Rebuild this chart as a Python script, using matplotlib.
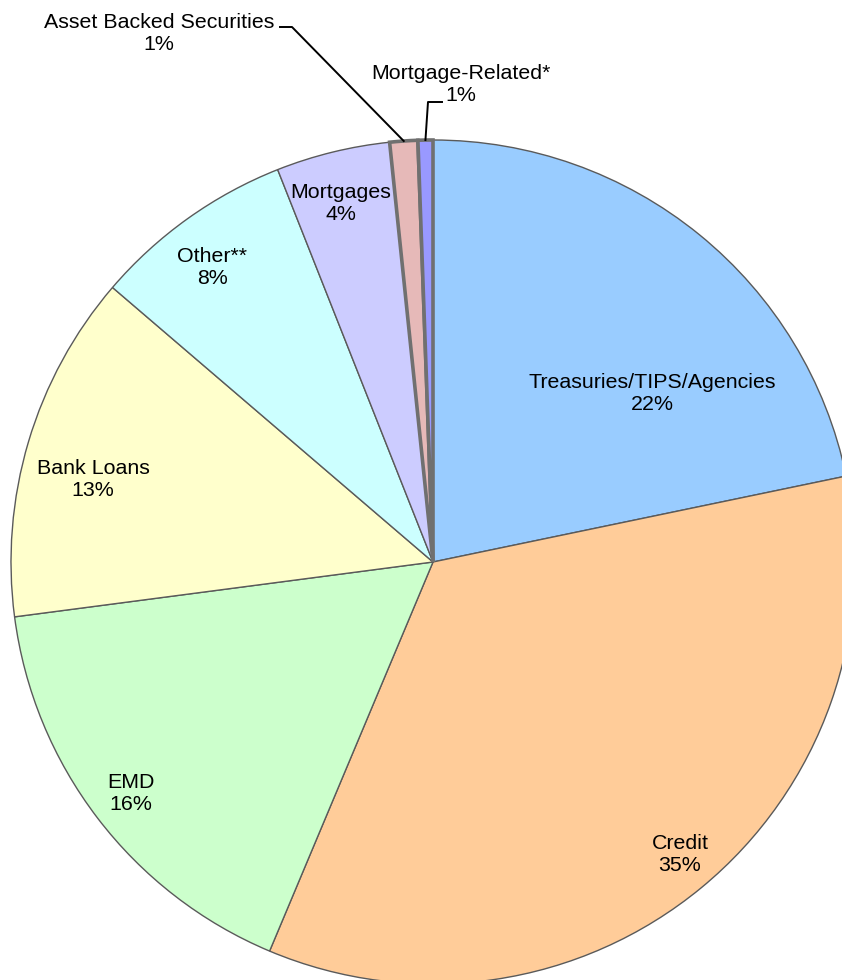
import numpy as np
import matplotlib
matplotlib.use("Agg")
import matplotlib.pyplot as plt

plt.rcParams['font.family'] = ['Liberation Sans', 'DejaVu Sans']

###############################################################################
""" Datos """
###############################################################################
sectores = ["Treasuries/TIPS/Agencies", "Credit", "EMD", "Bank Loans",
            "Other**", "Mortgages", "Asset Backed Securities",
            "Mortgage-Related*"]
pesos = [21.74, 34.6, 16.6, 13.35, 7.73, 4.36, 1.07, 0.57]
etiquetas_pct = ["22%", "35%", "16%", "13%", "8%", "4%", "1%", "1%"]
colores = ["#99CCFF", "#FFCC99", "#CCFFCC", "#FFFFCC", "#CCFFFF",
           "#CCCCFF", "#E6B9B8", "#9999FF"]

###############################################################################
""" Layout (pixeles de la imagen -> coordenadas del pie) """
###############################################################################
W, H = 842, 980
CX, CY, R = 433, 562, 422

def px(x, y):
    return (x - CX) / R, (CY - y) / R

# centro de cada etiqueta en pixeles
pos_etiquetas = [(652, 393), (680, 854), (131, 793), (93, 479),
                 (212, 267), (341, 203), (159, 33), (461, 84)]

fig = plt.figure(figsize=(W / 100, H / 100), dpi=100)
ax = fig.add_axes([0, 0, 1, 1])

wedges, _ = ax.pie(pesos, colors=colores, startangle=90, counterclock=False,
                   radius=1, center=(0, 0),
                   wedgeprops=dict(edgecolor="#5a5a5a", linewidth=1.0))

# las dos rebanadas chicas llevan borde grueso
for w in wedges[-2:]:
    w.set_linewidth(2.6)
    w.set_edgecolor("#707070")
    w.set_zorder(3)

for nombre, pct, (x, y) in zip(sectores, etiquetas_pct, pos_etiquetas):
    tx, ty = px(x, y)
    ax.text(tx, ty, nombre + "\n" + pct, ha="center", va="center",
            fontsize=15.4, linespacing=1.2, color="black", zorder=5)

# lineas guia para las rebanadas chicas
def punto_medio(i):
    th = np.deg2rad((wedges[i].theta1 + wedges[i].theta2) / 2)
    return np.cos(th), np.sin(th)

ex, ey = punto_medio(6)
x0, y0 = px(280, 27)
x1, y1 = px(292, 27)
ax.plot([x0, x1, ex], [y0, y1, ey], color="black", lw=1.4, zorder=4)

ex, ey = punto_medio(7)
x0, y0 = px(442, 102)
x1, y1 = px(428, 102)
ax.plot([x0, x1, ex], [y0, y1, ey], color="black", lw=1.4, zorder=4)

ax.set_xlim(-CX / R, (W - CX) / R)
ax.set_ylim(-(H - CY) / R, CY / R)
ax.set_aspect("auto")
ax.axis("off")

fig.savefig("out.png", dpi=100)
